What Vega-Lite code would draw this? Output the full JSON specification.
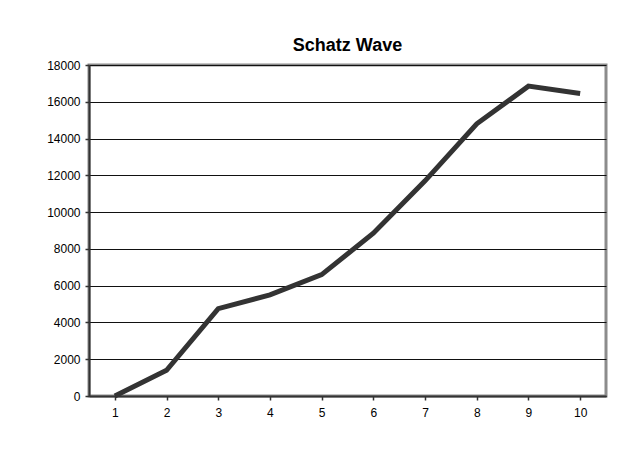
{
  "$schema": "https://vega.github.io/schema/vega-lite/v6.json",
  "width": 517,
  "height": 331,
  "autosize": {"type": "none"},
  "padding": {"left": 89, "top": 65, "right": 14, "bottom": 58},
  "background": "white",
  "title": {
    "text": "Schatz Wave",
    "font": "Liberation Sans",
    "fontSize": 18,
    "fontWeight": "bold",
    "color": "black",
    "offset": 4,
    "anchor": "middle"
  },
  "config": {
    "view": {"stroke": "#8c8c8c", "strokeWidth": 3},
    "axis": {
      "labelFont": "Liberation Sans",
      "labelFontSize": 12,
      "labelColor": "black",
      "domainColor": "#333333",
      "domainWidth": 2,
      "tickColor": "#333333",
      "tickWidth": 1.5,
      "tickSize": 4,
      "title": null
    }
  },
  "data": {
    "values": [
      {"n": "1", "v": 0},
      {"n": "2", "v": 1400},
      {"n": "3", "v": 4750},
      {"n": "4", "v": 5500},
      {"n": "5", "v": 6600},
      {"n": "6", "v": 8850},
      {"n": "7", "v": 11700},
      {"n": "8", "v": 14800},
      {"n": "9", "v": 16850},
      {"n": "10", "v": 16450}
    ]
  },
  "mark": {"type": "line", "color": "#333333", "strokeWidth": 5, "strokeJoin": "miter", "strokeCap": "butt", "clip": false},
  "encoding": {
    "x": {
      "field": "n",
      "type": "ordinal",
      "sort": null,
      "scale": {"paddingInner": 0, "paddingOuter": 0},
      "axis": {"labelAngle": 0, "bandPosition": 0, "labelPadding": 7, "grid": false}
    },
    "y": {
      "field": "v",
      "type": "quantitative",
      "scale": {"domain": [0, 18000], "nice": false},
      "axis": {
        "values": [0, 2000, 4000, 6000, 8000, 10000, 12000, 14000, 16000, 18000],
        "format": "d",
        "grid": true,
        "gridColor": "#111111",
        "gridWidth": 1,
        "gridOpacity": 1,
        "labelPadding": 5
      }
    }
  }
}
